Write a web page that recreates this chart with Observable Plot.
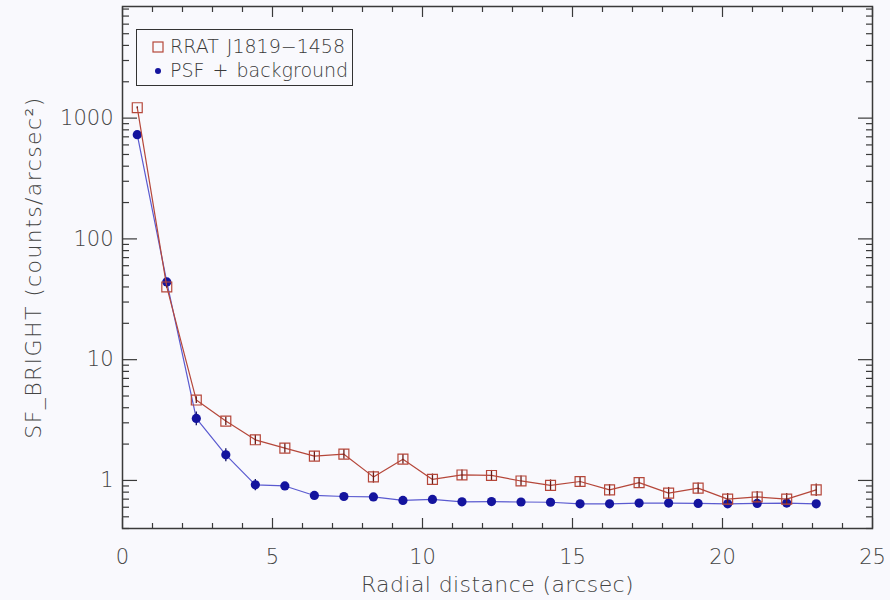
<!DOCTYPE html>
<html>
<head>
<meta charset="utf-8">
<script src="https://cdn.jsdelivr.net/npm/d3@7"></script>
<script src="https://cdn.jsdelivr.net/npm/@observablehq/plot@0.6"></script>
<style>
  html, body { margin: 0; padding: 0; background: #f9f9fd; }
  #wrap { position: relative; width: 890px; height: 600px; font-family: "DejaVu Sans", sans-serif; font-weight: 200; }
  #legend { position: absolute; left: 136px; top: 29px; width: 215px; height: 55px; border: 1.3px solid #333; background: #f9f9fd; color: #3a3a3a; font-size: 19px; }
  #legend .row { position: absolute; left: 0; height: 22px; line-height: 22px; white-space: nowrap; word-spacing: 2px; }
  #legend svg { position: absolute; left: 14px; top: 6px; }
  #legend span { position: absolute; left: 33px; top: 0; }
  svg text { font-weight: 200; }
</style>
</head>
<body>
<div id="wrap">
  <div id="chart"></div>
  <div id="legend">
    <div class="row" style="top:5px"><svg width="14" height="12"><rect x="2" y="1" width="10" height="10" fill="none" stroke="#b5473a" stroke-width="1.2"/></svg><span>RRAT J1819−1458</span></div>
    <div class="row" style="top:29px"><svg width="14" height="12"><circle cx="7" cy="6" r="3" fill="#14149e"/></svg><span>PSF + background</span></div>
  </div>
</div>
<script>
// Radial bin centres (arcsec)
const radius = [0.492, 1.476, 2.46, 3.444, 4.428, 5.412, 6.396, 7.38, 8.364, 9.348, 10.332, 11.316, 12.3, 13.284, 14.268, 15.252, 16.236, 17.22, 18.204, 19.188, 20.172, 21.156, 22.14, 23.124];
// RRAT J1819-1458 surface brightness (counts/arcsec^2)
const rrat = [1220, 40, 4.63, 3.10, 2.17, 1.85, 1.59, 1.65, 1.07, 1.50, 1.02, 1.11, 1.10, 0.99, 0.91, 0.98, 0.836, 0.96, 0.785, 0.863, 0.70, 0.73, 0.70, 0.836];
const rratErr = [25, 1.0, 0.3, 0.25, 0.2, 0.17, 0.15, 0.15, 0.12, 0.14, 0.11, 0.11, 0.11, 0.1, 0.1, 0.1, 0.09, 0.1, 0.09, 0.09, 0.08, 0.08, 0.08, 0.1];
// PSF + background
const psf = [730, 44, 3.26, 1.63, 0.92, 0.90, 0.751, 0.736, 0.73, 0.683, 0.696, 0.665, 0.668, 0.663, 0.66, 0.64, 0.64, 0.65, 0.65, 0.645, 0.64, 0.645, 0.65, 0.64];
const psfErr = [10, 1.2, 0.42, 0.2, 0.1, 0.04, 0.03, 0.03, 0.03, 0.02, 0.02, 0.02, 0.02, 0.02, 0.02, 0.02, 0.02, 0.02, 0.02, 0.02, 0.02, 0.02, 0.02, 0.02];
// Axis ticks and titles
const xMajor = [0, 5, 10, 15, 20, 25];
const xMinor = [1, 2, 3, 4, 6, 7, 8, 9, 11, 12, 13, 14, 16, 17, 18, 19, 21, 22, 23, 24];
const yMajor = [1, 10, 100, 1000];
const yMinor = [0.4, 0.5, 0.6, 0.7, 0.8, 0.9, 2, 3, 4, 5, 6, 7, 8, 9, 20, 30, 40, 50, 60, 70, 80, 90, 200, 300, 400, 500, 600, 700, 800, 900, 2000, 3000, 4000, 5000, 6000, 7000, 8000];
const xTitle = "Radial distance (arcsec)";
const yTitle = "SF_BRIGHT (counts/arcsec²)";

const rows = radius.map((x, i) => ({x, r: rrat[i], rLo: rrat[i] - rratErr[i], rHi: rrat[i] + rratErr[i], p: psf[i], pLo: psf[i] - psfErr[i], pHi: psf[i] + psfErr[i]}));

const red = "#b5473a", redDark = "#6a1c16", blueFill = "#14149e", blueLine = "#5a5ad0";
const axisCol = "#3a3a3a", textCol = "#444";
const blank = () => "";

const chart = Plot.plot({
  width: 890,
  height: 600,
  marginLeft: 122,
  marginRight: 18,
  marginTop: 6,
  marginBottom: 72,
  style: {background: "transparent", fontFamily: "DejaVu Sans, sans-serif", fontSize: "20px", color: textCol},
  x: {domain: [0, 25]},
  y: {type: "log", domain: [0.4, 8400]},
  marks: [
    // ticks (inward) on all four sides
    Plot.axisX(xMajor, {anchor: "bottom", tickSize: -10, tickFormat: blank, label: null, stroke: axisCol, strokeWidth: 1.2}),
    Plot.axisX(xMinor, {anchor: "bottom", tickSize: -5, tickFormat: blank, label: null, stroke: axisCol, strokeWidth: 1.2}),
    Plot.axisX(xMajor, {anchor: "top", tickSize: -10, tickFormat: blank, label: null, stroke: axisCol, strokeWidth: 1.2}),
    Plot.axisX(xMinor, {anchor: "top", tickSize: -5, tickFormat: blank, label: null, stroke: axisCol, strokeWidth: 1.2}),
    Plot.axisY(yMajor, {anchor: "left", tickSize: -15, tickFormat: blank, label: null, stroke: axisCol, strokeWidth: 1.2}),
    Plot.axisY(yMinor, {anchor: "left", tickSize: -7, tickFormat: blank, label: null, stroke: axisCol, strokeWidth: 1.2}),
    Plot.axisY(yMajor, {anchor: "right", tickSize: -15, tickFormat: blank, label: null, stroke: axisCol, strokeWidth: 1.2}),
    Plot.axisY(yMinor, {anchor: "right", tickSize: -7, tickFormat: blank, label: null, stroke: axisCol, strokeWidth: 1.2}),
    // tick labels
    Plot.axisX(xMajor, {anchor: "bottom", tickSize: 0, tickPadding: 21, tickFormat: d => String(d), label: null, fill: textCol, fontSize: 21}),
    Plot.axisY(yMajor, {anchor: "left", tickSize: 0, tickPadding: 9, tickFormat: d => String(d), label: null, fill: textCol, fontSize: 21}),
    // axis titles
    Plot.text([xTitle], {text: d => d, frameAnchor: "bottom", lineAnchor: "bottom", dy: 63, fontSize: 22, fill: textCol}),
    Plot.text([yTitle], {text: d => d, frameAnchor: "left", textAnchor: "middle", lineAnchor: "middle", rotate: -90, dx: -89, fontSize: 22, fill: textCol}),
    Plot.frame({stroke: axisCol, strokeWidth: 1.5}),
    // PSF + background
    Plot.line(rows, {x: "x", y: "p", stroke: blueLine, strokeWidth: 1.2}),
    Plot.ruleX(rows, {x: "x", y1: "pLo", y2: "pHi", stroke: "#101060", strokeWidth: 1.3}),
    Plot.dot(rows, {x: "x", y: "p", r: 4.6, fill: blueFill, stroke: "none"}),
    // RRAT
    Plot.line(rows, {x: "x", y: "r", stroke: red, strokeWidth: 1.2}),
    Plot.ruleX(rows, {x: "x", y1: "rLo", y2: "rHi", stroke: redDark, strokeWidth: 1.3}),
    Plot.dot(rows, {x: "x", y: "r", symbol: "square", r: 5.6, fill: "none", stroke: red, strokeWidth: 1.2})
  ]
});
d3.select(chart).selectAll("text").filter(function() { return this.textContent === xTitle; }).style("letter-spacing", "0.4px");
d3.select(chart).selectAll("text").filter(function() { return this.textContent === yTitle; }).style("letter-spacing", "1.4px");
document.getElementById("chart").appendChild(chart);
</script>
</body>
</html>
